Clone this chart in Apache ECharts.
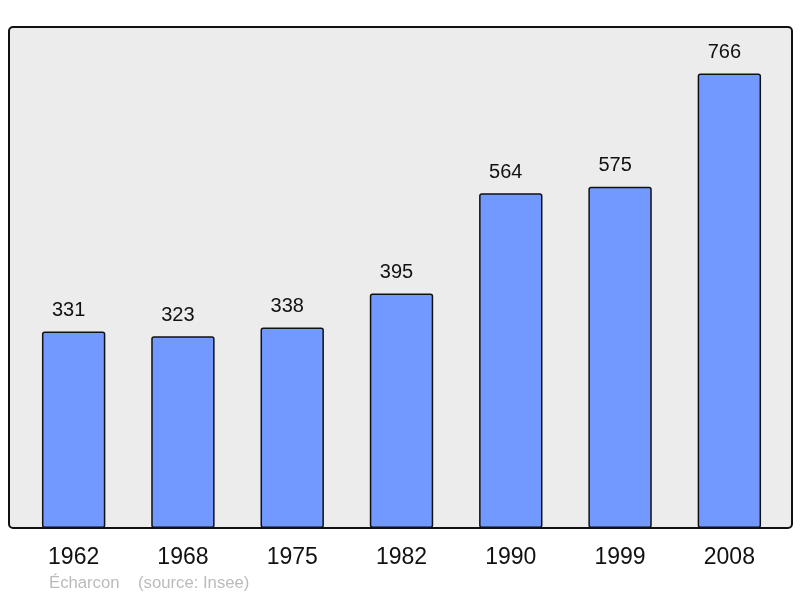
<!DOCTYPE html>
<html>
<head>
<meta charset="utf-8">
<script src="https://cdn.jsdelivr.net/npm/echarts@6/dist/echarts.min.js"></script>
<style>
  html, body { margin: 0; padding: 0; background: #fff; }
  #chart { width: 800px; height: 598px; }
</style>
</head>
<body>
<div id="chart"></div>
<script>
const years = ['1962', '1968', '1975', '1982', '1990', '1999', '2008'];
const population = [331, 323, 338, 395, 564, 575, 766];
const caption = 'Écharcon    (source: Insee)';

const chart = echarts.init(document.getElementById('chart'));
const option = {
  animation: false,
  textStyle: { fontFamily: 'Liberation Sans, Arial, sans-serif' },
  graphic: [
    {
      type: 'rect',
      z: -10,
      shape: { x: 9, y: 27, width: 783, height: 501, r: 4 },
      style: { fill: '#ececec', stroke: '#111', lineWidth: 2 },
    },
    {
      type: 'text',
      left: 49,
      top: 575,
      style: { text: caption, fill: '#bbbbbb', font: '16.7px Liberation Sans, Arial, sans-serif' },
    },
  ],
  grid: { left: 19, width: 765, top: 28, bottom: 70 },
  xAxis: {
    type: 'category',
    data: years,
    axisLine: { show: false },
    axisTick: { show: false },
    axisLabel: { color: '#111', fontSize: 23, margin: 18 },
  },
  yAxis: {
    type: 'value',
    min: 0,
    max: 842.6,
    show: false,
    splitLine: { show: false },
  },
  series: [
    {
      type: 'bar',
      data: population,
      barWidth: '58%',
      itemStyle: { color: '#7199ff', borderColor: '#111', borderWidth: 1.5, borderRadius: 2 },
      label: { show: true, position: 'top', distance: 11, offset: [-5, 0], color: '#111', fontSize: 20 },
    },
  ],
};
chart.setOption(option);
</script>
</body>
</html>
